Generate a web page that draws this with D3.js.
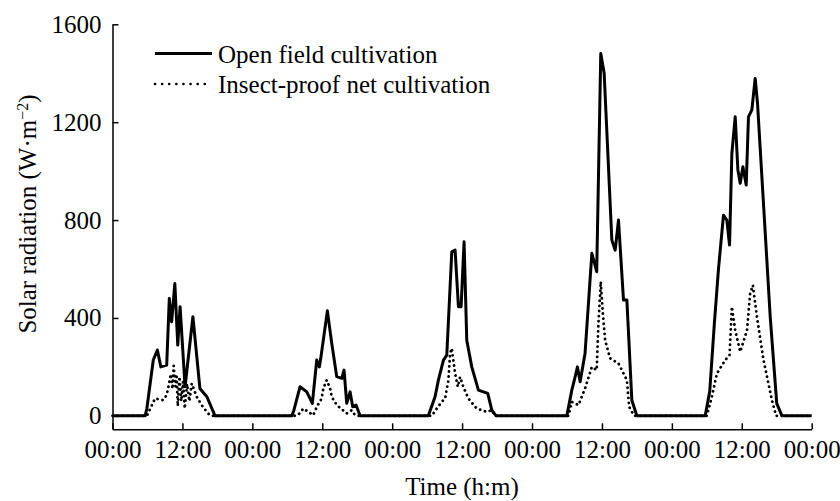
<!DOCTYPE html>
<html>
<head>
<meta charset="utf-8">
<script src="https://cdn.jsdelivr.net/npm/d3@7"></script>
<style>
body { margin: 0; background: #fff; }
text { font-family: "Liberation Serif", "Times New Roman", serif; fill: #000; }
</style>
</head>
<body>
<svg id="chart"></svg>
<script>
// hours since first midnight
var openTime = [0, 5.6, 5.9, 7.0, 7.7, 8.3, 9.3, 9.75, 10.15, 10.7, 11.2, 11.6, 12.45, 13.8, 15.0, 16.2, 17.6,
  30.76, 31.1, 32.19, 33.34, 34.3, 35.05, 35.5, 35.74, 36.88, 37.63, 38.49, 39.35, 39.74, 40.2, 40.77, 41.23, 41.8, 42.49,
  54.2, 55.36, 55.93, 56.8, 57.37, 58.23, 58.8, 59.37, 59.83, 60.34, 60.8, 61.66, 62.8, 64.4, 65.1, 65.84,
  77.97, 78.83, 79.4, 79.8, 80.26, 81.1, 82.27, 83.1, 83.8, 84.38, 85.7, 86.27, 86.84, 87.7, 88.28, 89.13, 90.0,
  101.72, 102.5, 103.3, 104.0, 104.86, 105.44, 105.9, 106.3, 106.87, 107.33, 107.73, 108.19, 108.76, 109.15, 109.73, 110.3, 110.7, 112.88, 114.0, 114.9, 120];
var openValue = [0, 0, 30, 228, 269, 200, 207, 480, 384, 541, 289, 446, 119, 405, 112, 78, 0,
  0, 20, 119, 98, 51, 228, 200, 235, 429, 296, 160, 153, 187, 51, 98, 37, 44, 0,
  0, 78, 146, 228, 248, 670, 677, 446, 446, 711, 309, 200, 105, 92, 23, 0,
  0, 105, 159, 200, 139, 255, 664, 589, 1481, 1400, 718, 677, 800, 473, 473, 64, 0,
  0, 100, 380, 600, 820, 800, 698, 1073, 1222, 1005, 950, 1018, 943, 1222, 1250, 1379, 1277, 405, 51, 0, 0];

var netTime = [0, 5.9, 7.3, 8.7, 9.3, 9.6, 10.0, 10.3, 10.5, 10.8, 11.0, 11.2, 11.5, 11.8, 12.1, 12.4, 12.8, 13.2, 13.6, 14.45, 15.3, 16.4, 16.9,
  31.2, 31.9, 32.76, 33.6, 34.47, 35.06, 35.9, 36.19, 36.77, 37.34, 37.63, 38.49, 40.2, 41.06, 41.63, 42.0,
  54.8, 55.66, 56.5, 57.08, 57.65, 57.94, 58.23, 58.8, 59.26, 59.66, 60.2, 61.08, 62.5, 64.24, 65.1, 65.67,
  78.25, 78.83, 79.97, 81.1, 82.27, 83.1, 83.4, 83.8, 84.15, 84.55, 85.4, 86.84, 88.28, 88.67, 89.53,
  102.0, 102.87, 103.73, 105.16, 105.9, 106.3, 106.87, 107.73, 108.9, 109.44, 109.9, 110.6, 111.73, 113.17, 113.9, 120];
var netValue = [0, 0, 71, 64, 85, 119, 170, 110, 205, 120, 170, 40, 160, 60, 140, 30, 130, 60, 132, 78, 44, 10, 0,
  0, 5, 30, 16, 3, 37, 71, 112, 146, 112, 78, 44, 10, 23, 3, 0,
  0, 30, 57, 71, 146, 255, 276, 173, 119, 159, 119, 71, 30, 16, 23, 0,
  0, 57, 44, 112, 200, 187, 378, 548, 419, 309, 235, 214, 146, 37, 0,
  0, 78, 173, 228, 248, 446, 350, 262, 350, 500, 534, 405, 228, 64, 0, 0];

var xTicks = [0, 12, 24, 36, 48, 60, 72, 84, 96, 108, 120];
var xTickLabels = ["00:00", "12:00", "00:00", "12:00", "00:00", "12:00", "00:00", "12:00", "00:00", "12:00", "00:00"];
var yTicks = [0, 400, 800, 1200, 1600];
var seriesNames = ["Open field cultivation", "Insect-proof net cultivation"];

var width = 840,
    height = 501,
    fontSize = "25px";

var svg = d3.select("#chart")
  .attr("width", width)
  .attr("height", height);

var x = d3.scaleLinear().domain([0, 120]).range([112.5, 811.7]);
var y = d3.scaleLinear().domain([-55, 1600]).range([429.3, 24.3]);

var line = d3.line()
  .x(function(d) { return x(d[0]); })
  .y(function(d) { return y(d[1]); });

var openData = openTime.map(function(t, i) { return [t, openValue[i]]; });
var netData = netTime.map(function(t, i) { return [t, netValue[i]]; });

svg.append("path")
  .datum(openData)
  .attr("d", line)
  .attr("fill", "none")
  .attr("stroke", "#000")
  .attr("stroke-width", 3)
  .attr("stroke-linejoin", "round");

svg.append("path")
  .datum(netData)
  .attr("d", line)
  .attr("fill", "none")
  .attr("stroke", "#000")
  .attr("stroke-width", 2.8)
  .attr("stroke-linecap", "round")
  .attr("stroke-dasharray", "0.1,5");

// axes
var xAxis = d3.axisBottom(x)
  .tickValues(xTicks)
  .tickFormat(function(d, i) { return xTickLabels[i]; })
  .tickSizeInner(-6)
  .tickSizeOuter(0)
  .tickPadding(11);

var yAxis = d3.axisLeft(y)
  .tickValues(yTicks)
  .tickFormat(d3.format("d"))
  .tickSizeInner(-6)
  .tickSizeOuter(0)
  .tickPadding(11);

var gx = svg.append("g")
  .attr("transform", "translate(0," + y.range()[0] + ")")
  .call(xAxis);

var gy = svg.append("g")
  .attr("transform", "translate(" + x.range()[0] + ",0)")
  .call(yAxis);

[gx, gy].forEach(function(g) {
  g.selectAll("path, line").attr("stroke", "#000").attr("stroke-width", 1.5);
  g.selectAll("text").style("font-size", fontSize).attr("fill", "#000");
  g.attr("font-family", null);
});

// axis titles
svg.append("text")
  .attr("x", 462)
  .attr("y", 495)
  .attr("text-anchor", "middle")
  .style("font-size", fontSize)
  .text("Time (h:m)");

var yt = svg.append("text")
  .attr("transform", "translate(36,214) rotate(-90)")
  .attr("text-anchor", "middle")
  .style("font-size", fontSize);
yt.append("tspan").text("Solar radiation (W\u00b7m");
yt.append("tspan").attr("baseline-shift", "super").style("font-size", "16px").text("\u22122");
yt.append("tspan").text(")");

// legend
var legend = svg.selectAll(".legend")
  .data(seriesNames)
  .enter().append("g")
  .attr("class", "legend")
  .attr("transform", function(d, i) { return "translate(0," + (53.5 + i * 30.5) + ")"; });

legend.append("line")
  .attr("x1", 155)
  .attr("x2", function(d, i) { return i === 0 ? 212 : 208; })
  .attr("stroke", "#000")
  .attr("stroke-width", function(d, i) { return i === 0 ? 3 : 2.6; })
  .attr("stroke-linecap", function(d, i) { return i === 0 ? "butt" : "round"; })
  .attr("stroke-dasharray", function(d, i) { return i === 0 ? null : "0.1,7"; });

legend.append("text")
  .attr("x", 218)
  .attr("y", 9)
  .style("font-size", fontSize)
  .text(function(d) { return d; });
</script>
</body>
</html>
